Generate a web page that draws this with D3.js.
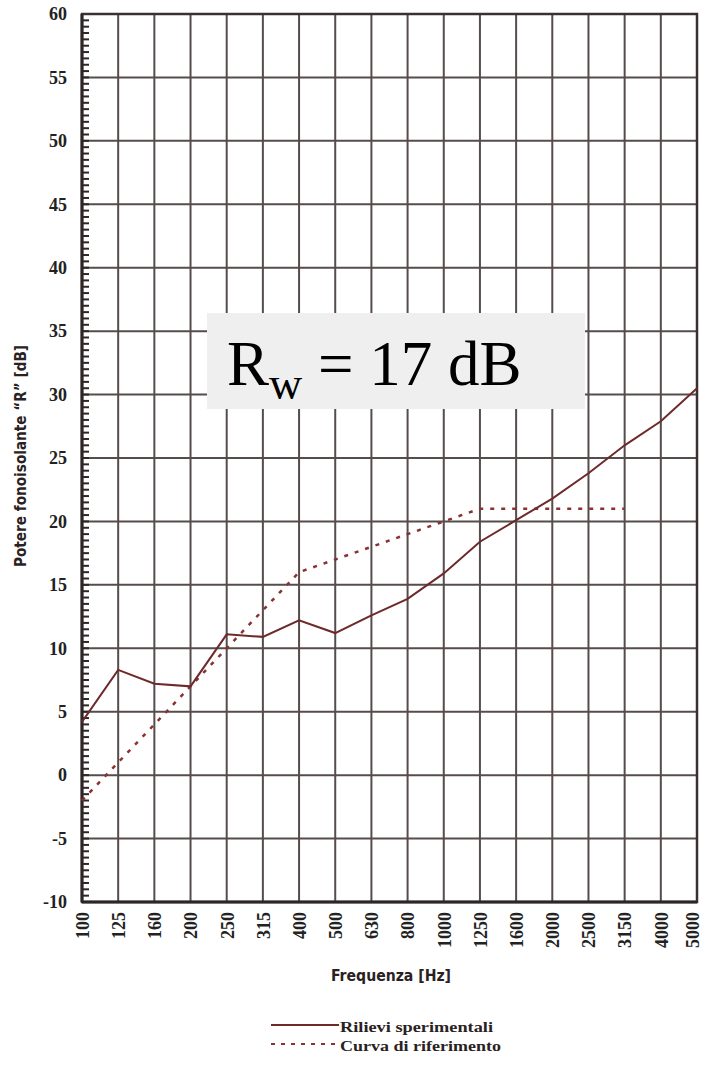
<!DOCTYPE html>
<html><head><meta charset="utf-8">
<script src="https://cdn.jsdelivr.net/npm/d3@7"></script>
<style>
html,body{margin:0;padding:0;background:#fff;}
svg{display:block;}
</style></head>
<body>
<svg id="chart" width="705" height="1067"></svg>
<script>
const categories = ["100","125","160","200","250","315","400","500","630","800","1000","1250","1600","2000","2500","3150","4000","5000"];
const measured = [4.2, 8.3, 7.2, 7.0, 11.1, 10.9, 12.2, 11.2, 12.6, 13.9, 15.9, 18.4, 20.1, 21.8, 23.8, 26.0, 27.9, 30.5];
const referenceCats = ["100","125","160","200","250","315","400","500","630","800","1000","1250","1600","2000","2500","3150"];
const reference = [-2, 1, 4, 7, 10, 13, 16, 17, 18, 19, 20, 21, 21, 21, 21, 21];
const yTicks = [-10,-5,0,5,10,15,20,25,30,35,40,45,50,55,60];
const yTitle = "Potere fonoisolante \u201CR\u201D [dB]";
const xTitle = "Frequenza [Hz]";
const legendLabels = ["Rilievi sperimentali", "Curva di riferimento"];
const ratingLabel = {main:"R", sub:"w", rest:" = 17 dB"};

const svg = d3.select("#chart");
const L = 82, R = 697, T = 14, B = 902;
const x = d3.scalePoint().domain(categories).range([L, R]);
const y = d3.scaleLinear().domain([-10, 60]).range([B, T]);

const gridColor = "#564c4c";
const lineColor = "#6e2a2a";
const dashColor = "#8a3232";

// horizontal grid
svg.append("g").selectAll("line").data(yTicks).join("line")
  .attr("x1", L).attr("x2", R).attr("y1", d => y(d)).attr("y2", d => y(d))
  .attr("stroke", gridColor).attr("stroke-width", 2);
// vertical grid
svg.append("g").selectAll("line").data(categories).join("line")
  .attr("x1", d => x(d)).attr("x2", d => x(d)).attr("y1", T).attr("y2", B)
  .attr("stroke", gridColor).attr("stroke-width", 2);

// minor ticks on left axis every 0.5
const minor = d3.range(-10, 60.001, 0.5);
svg.append("g").selectAll("line").data(minor).join("line")
  .attr("x1", L).attr("x2", L + 7).attr("y1", d => y(d)).attr("y2", d => y(d))
  .attr("stroke", "#2e2626").attr("stroke-width", 2);

// frame
svg.append("rect").attr("x", L).attr("y", T).attr("width", R - L).attr("height", B - T)
  .attr("fill", "none").attr("stroke", "#3a3030").attr("stroke-width", 2.5);
svg.append("line").attr("x1", L).attr("x2", L).attr("y1", T).attr("y2", B)
  .attr("stroke", "#2e2626").attr("stroke-width", 3);
svg.append("line").attr("x1", L).attr("x2", R).attr("y1", B).attr("y2", B)
  .attr("stroke", "#2e2626").attr("stroke-width", 3);

// y axis labels
const yAxis = d3.axisLeft(y).tickValues(yTicks).tickSize(0).tickPadding(15)
  .tickFormat(d => String(d));
const gy = svg.append("g").attr("transform", `translate(${L},0)`).call(yAxis);
gy.select(".domain").remove();
gy.selectAll("text").attr("font-family", "'Liberation Serif', serif").attr("font-weight", "bold")
  .attr("font-size", 18).attr("fill", "#222");

// x axis labels (rotated)
const xAxis = d3.axisBottom(x).tickSize(0).tickPadding(0);
const gx = svg.append("g").attr("transform", `translate(0,${B})`).call(xAxis);
gx.select(".domain").remove();
const lastCat = categories[categories.length - 1];
gx.selectAll("text")
  .attr("font-family", "'Liberation Serif', serif").attr("font-weight", "bold")
  .attr("font-size", 18).attr("fill", "#222")
  .attr("text-anchor", "end").attr("x", 0).attr("y", 0).attr("dy", "0.35em")
  .attr("transform", d => d === lastCat ? "translate(-5,10) rotate(-90)" : "translate(0,10) rotate(-90)");

// reference curve (dashed)
const refData = referenceCats.map((c, i) => [c, reference[i]]);
svg.append("path").datum(refData)
  .attr("d", d3.line().x(d => x(d[0])).y(d => y(d[1])))
  .attr("fill", "none").attr("stroke", dashColor).attr("stroke-width", 2.5)
  .attr("stroke-dasharray", "4,7");

// measured curve
const measData = categories.map((c, i) => [c, measured[i]]);
svg.append("path").datum(measData)
  .attr("d", d3.line().x(d => x(d[0])).y(d => y(d[1])))
  .attr("fill", "none").attr("stroke", lineColor).attr("stroke-width", 2);

// rating box
svg.append("rect").attr("x", 207).attr("y", 313).attr("width", 378).attr("height", 96)
  .attr("fill", "#efefef");
const rt = svg.append("text").attr("x", 227).attr("y", 385)
  .attr("font-family", "'Liberation Serif', 'Times New Roman', serif").attr("font-size", 63).attr("fill", "#000");
rt.append("tspan").text(ratingLabel.main);
rt.append("tspan").attr("font-size", 46).attr("dy", 14).text(ratingLabel.sub);
rt.append("tspan").attr("dy", -14).text(ratingLabel.rest);

// axis titles
svg.append("text").attr("transform", "translate(21,456) rotate(-90)")
  .attr("text-anchor", "middle").attr("dy", "0.35em")
  .attr("font-family", "'Liberation Sans Narrow', 'DejaVu Sans Condensed', sans-serif")
  .attr("font-weight", "bold").attr("font-size", 15).attr("fill", "#2a2222")
  .attr("textLength", 222).attr("lengthAdjust", "spacingAndGlyphs")
  .text(yTitle);
svg.append("text").attr("x", 391).attr("y", 981).attr("text-anchor", "middle")
  .attr("font-family", "'Liberation Sans Narrow', 'DejaVu Sans Condensed', sans-serif")
  .attr("font-weight", "bold").attr("font-size", 16).attr("fill", "#2a2222")
  .attr("textLength", 120).attr("lengthAdjust", "spacingAndGlyphs")
  .text(xTitle);

// legend
const leg = svg.append("g");
const legRows = [
  {label: legendLabels[0], y: 1025, dash: null, color: lineColor, len: 153},
  {label: legendLabels[1], y: 1044, dash: "4,6", color: dashColor, len: 161}
];
legRows.forEach(r => {
  leg.append("line").attr("x1", 271).attr("x2", 339).attr("y1", r.y).attr("y2", r.y)
    .attr("stroke", r.color).attr("stroke-width", r.dash ? 2.2 : 2)
    .attr("stroke-dasharray", r.dash);
  leg.append("text").attr("x", 340).attr("y", r.y + 7)
    .attr("font-family", "'Liberation Serif', serif").attr("font-weight", "bold")
    .attr("font-size", 15).attr("fill", "#2a2222")
    .attr("textLength", r.len).attr("lengthAdjust", "spacingAndGlyphs")
    .text(r.label);
});
</script>
</body></html>
